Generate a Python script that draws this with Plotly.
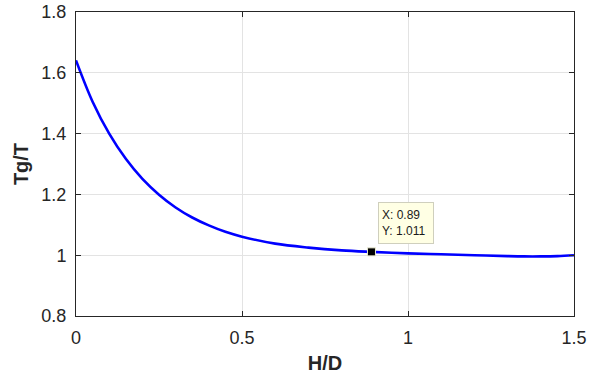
import plotly.graph_objects as go

# Data
hd = [0, 0.05, 0.1, 0.15, 0.2, 0.25, 0.3, 0.35, 0.4, 0.45, 0.5, 0.6, 0.7, 0.8, 0.89,
      1.0, 1.1, 1.2, 1.3, 1.35, 1.4, 1.45, 1.5]
tg_t = [1.641, 1.505, 1.400, 1.317, 1.251, 1.199, 1.157, 1.124, 1.098, 1.077, 1.061, 1.038, 1.025, 1.016, 1.011,
        1.006, 1.003, 1.000, 0.997, 0.996, 0.996, 0.997, 1.000]

tip_x = [0.89]
tip_y = [1.011]

x_ticks = [0, 0.5, 1, 1.5]
y_ticks = [0.8, 1.0, 1.2, 1.4, 1.6, 1.8]

font_family = "Liberation Sans, Arial, Helvetica, sans-serif"
axis_color = "#262626"
grid_color = "#e3e3e3"

fig = go.Figure()
fig.add_trace(go.Scatter(
    x=hd, y=tg_t, mode="lines",
    line=dict(color="#0000ff", width=2.6, shape="spline", smoothing=1.0),
    hoverinfo="skip", showlegend=False,
))
fig.add_trace(go.Scatter(
    x=tip_x, y=tip_y, mode="markers",
    marker=dict(symbol="square", size=8, color="black",
                line=dict(color="#e8e8cc", width=1)),
    hoverinfo="skip", showlegend=False,
))

fig.add_annotation(
    x=tip_x[0], y=tip_y[0], xref="x", yref="y",
    text=f"X: {tip_x[0]:g}<br>Y: {tip_y[0]:.3f}",
    showarrow=False, xanchor="left", yanchor="bottom", align="left",
    xshift=7, yshift=8,
    font=dict(family=font_family, size=12, color="#1a1a1a"),
    bgcolor="#ffffe4", bordercolor="#cfcfbd", borderwidth=1, borderpad=3,
    width=48, height=34,
)

axis_common = dict(
    showline=True, linecolor=axis_color, linewidth=1, mirror="allticks",
    ticks="inside", ticklen=5, tickcolor=axis_color, tickwidth=1,
    showgrid=True, gridcolor=grid_color, gridwidth=1, zeroline=False,
    automargin=False, ticklabelstandoff=5,
    tickfont=dict(family=font_family, size=18, color=axis_color),
)

fig.update_xaxes(
    range=[0, 1.5], tickvals=x_ticks,
    title=dict(text="<b>H/D</b>", font=dict(family=font_family, size=20, color=axis_color), standoff=9),
    **axis_common,
)
fig.update_yaxes(
    range=[0.8, 1.8], tickvals=y_ticks, ticktext=[f"{v:g}" for v in y_ticks],
    title=dict(text="<b>Tg/T</b>", font=dict(family=font_family, size=20, color=axis_color), standoff=7),
    **axis_common,
)

fig.update_layout(
    width=600, height=376,
    margin=dict(l=76, r=26, t=12, b=60),
    paper_bgcolor="white", plot_bgcolor="white",
)

fig.write_html("out.html", config={"displayModeBar": False},
               post_script="document.body.style.margin='0';")
